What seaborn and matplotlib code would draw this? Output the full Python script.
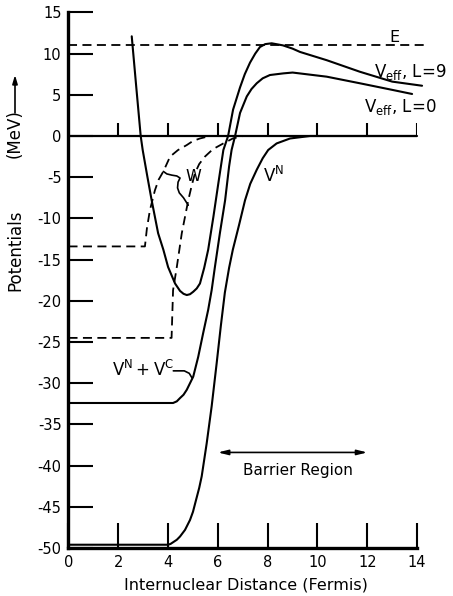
import numpy as np
import pandas as pd
import seaborn as sns
import matplotlib.pyplot as plt

# potentials: r in fermis, V in MeV
r_l9 = [2.54, 2.72, 2.90, 2.98, 3.16, 3.34, 3.60, 3.81, 4.00, 4.28, 4.48, 4.62, 4.75,
        4.88, 5.01, 5.15, 5.28, 5.45, 5.61, 5.82, 6.02, 6.22, 6.41, 6.61, 6.89, 7.08,
        7.29, 7.50, 7.69, 7.90, 8.16, 8.61, 9.00, 9.30, 10.37, 11.70, 13.00, 14.20]
v_l9 = [12.1, 6.0, 0.0, -1.7, -4.8, -7.8, -11.8, -13.8, -15.9, -17.9, -18.8, -19.15, -19.3,
        -19.2, -18.9, -18.5, -17.9, -16.0, -13.8, -9.8, -5.7, -1.7, 0.0, 3.2, 5.9, 7.5,
        8.9, 10.0, 10.8, 11.15, 11.25, 11.0, 10.6, 10.2, 9.2, 7.8, 6.6, 6.1]

r_l0 = [0.0, 4.20, 4.35, 4.48, 4.62, 4.75, 5.01, 5.21, 5.41, 5.61, 5.75, 5.88, 6.08, 6.29,
        6.45, 6.55, 6.69, 6.89, 7.16, 7.35, 7.56, 7.80, 8.09, 8.63, 9.00, 10.37, 11.70,
        13.00, 13.80]
v_l0 = [-32.4, -32.4, -32.2, -31.8, -31.4, -30.8, -29.2, -26.8, -23.9, -21.1, -18.7, -15.9,
        -11.8, -7.8, -3.7, -1.7, 0.0, 2.8, 4.8, 5.7, 6.4, 7.0, 7.4, 7.6, 7.7, 7.2, 6.4,
        5.6, 5.1]

r_vn = [0.0, 4.00, 4.10, 4.20, 4.35, 4.48, 4.68, 4.88, 5.00, 5.12, 5.25, 5.35, 5.55, 5.75,
        5.95, 6.12, 6.28, 6.45, 6.60, 6.85, 7.09, 7.30, 7.56, 7.80, 8.02, 8.36, 8.90, 9.70, 14.0]
v_vn = [-49.6, -49.6, -49.5, -49.3, -49.0, -48.6, -47.8, -46.6, -45.6, -44.2, -42.7, -41.3,
        -37.3, -32.8, -27.6, -23.0, -19.0, -16.0, -13.8, -10.8, -7.8, -5.8, -4.1, -2.7, -1.7,
        -0.9, -0.3, 0.0, 0.0]

r_w1 = [0.0, 3.07, 3.07, 3.15, 3.27, 3.47, 3.62, 3.81, 4.08, 4.40, 4.75, 5.00, 5.28, 5.68]
v_w1 = [-13.4, -13.4, -13.4, -11.2, -9.0, -6.6, -5.3, -4.3, -2.5, -1.7, -1.1, -0.6, -0.3, 0.0]

r_w2 = [0.0, 4.14, 4.14, 4.20, 4.35, 4.55, 4.81, 4.95, 5.08, 5.25, 5.48, 5.80, 6.22, 6.60, 7.00]
v_w2 = [-24.5, -24.5, -24.5, -18.7, -15.9, -11.8, -7.8, -6.0, -4.5, -3.4, -2.5, -1.6, -0.9,
        -0.3, 0.0]

r_e = [0.0, 14.4]
v_e = [11.0, 11.0]

xticks = list(range(0, 15, 2))
yticks = list(range(-50, 16, 5))

sns.set_style("ticks")
plt.rcParams['font.family'] = ['DejaVu Sans']
plt.rcParams['mathtext.default'] = 'regular'
for k in ['text.color', 'axes.labelcolor', 'xtick.color', 'ytick.color', 'axes.edgecolor']:
    plt.rcParams[k] = 'black'

fig = plt.figure(figsize=(4.53, 5.96), dpi=100)
ax = fig.add_axes([0.1512, 0.0805, 0.7695, 0.8987])


def draw(r, v, dashed=False, lw=1.5):
    df = pd.DataFrame({'r': r, 'v': v})
    sns.lineplot(data=df, x='r', y='v', ax=ax, color='black', lw=lw, sort=False,
                 estimator=None, linestyle=(0, (5, 3)) if dashed else '-')
    ax.lines[-1].set_clip_on(False)
    ax.lines[-1].set_solid_joinstyle('round')


draw(r_e, v_e, dashed=True, lw=1.3)
draw(r_w1, v_w1, dashed=True, lw=1.3)
draw(r_w2, v_w2, dashed=True, lw=1.3)
draw(r_vn, v_vn)
draw(r_l0, v_l0)
draw(r_l9, v_l9)

# zero line with its own small ticks
ax.plot([0, 14], [0, 0], color='black', lw=1.6)
ax.vlines(xticks[1:], 0, 1.55, color='black', lw=1.5)

ax.set_xlim(0, 14)
ax.set_ylim(-50, 15)
ax.set_xticks(xticks)
ax.set_yticks(yticks)
ax.set_yticklabels([str(t) for t in yticks])
ax.tick_params(direction='in', length=18, width=1.5, labelsize=10.5, pad=5)
ax.set_xlabel('')
ax.set_ylabel('')
sns.despine(ax=ax)
for s in ['left', 'bottom']:
    ax.spines[s].set_linewidth(2.4)

# labels
ax.text(13.1, 12.0, 'E', fontsize=11.5, ha='center', va='center')
ax.text(12.25, 7.8, r'$V_{eff}$, L=9', fontsize=12, ha='left', va='center')
ax.text(11.85, 3.5, r'$V_{eff}$, L=0', fontsize=12, ha='left', va='center')
ax.text(7.8, -4.8, r'$V^N$', fontsize=12, ha='left', va='center')
ax.text(1.75, -28.4, r'$V^N + V^C$', fontsize=12, ha='left', va='center')
ax.text(4.68, -4.9, 'W', fontsize=11.5, ha='left', va='center')
ax.text(9.2, -40.6, 'Barrier Region', fontsize=11, ha='center', va='center')

# brace for W and pointer for V^N + V^C
ax.plot([3.81, 3.95, 4.15, 4.35, 4.48, 4.40, 4.38, 4.45, 4.62, 4.81],
        [-4.3, -4.6, -4.75, -4.85, -5.1, -5.6, -6.3, -6.9, -7.5, -8.4],
        color='black', lw=1.2)
ax.plot([4.21, 4.65, 4.85, 4.97], [-28.5, -28.5, -28.8, -29.4], color='black', lw=1.2)

ax.annotate('', xy=(6.0, -38.4), xytext=(12.0, -38.4),
            arrowprops=dict(arrowstyle='<|-|>,head_length=0.6,head_width=0.15',
                            color='black', lw=1.2, shrinkA=0, shrinkB=0))

fig.text(246 / 453, 11 / 596, 'Internuclear Distance (Fermis)', fontsize=11.5,
         ha='center', va='center')
fig.text(15 / 453, (596 - 250) / 596, 'Potentials', fontsize=12, rotation=90,
         ha='center', va='center')
fig.text(15 / 453, (596 - 134) / 596, '(MeV)', fontsize=12, rotation=90,
         ha='center', va='center')
ax.annotate('', xy=(15, 596 - 75), xytext=(15, 596 - 113),
            xycoords='figure pixels', textcoords='figure pixels',
            arrowprops=dict(arrowstyle='-|>,head_length=0.5,head_width=0.15',
                            color='black', lw=1.2, shrinkA=0, shrinkB=0))

fig.savefig('out.png', dpi=100)
